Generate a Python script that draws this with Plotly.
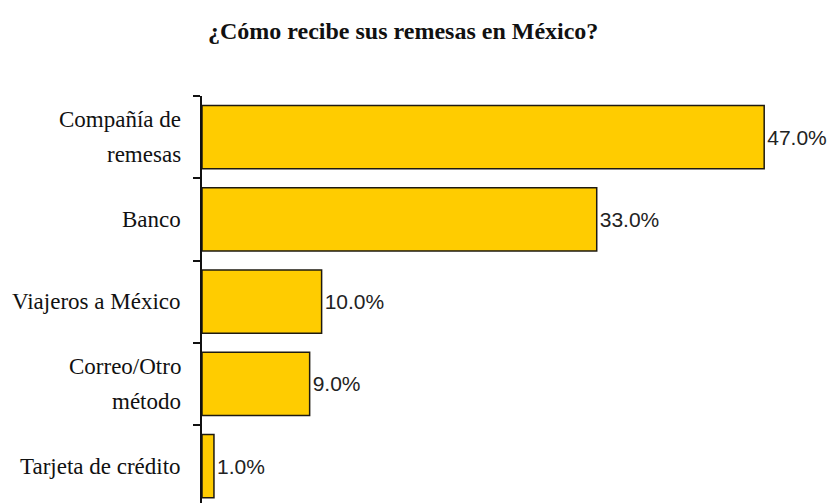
import plotly.graph_objects as go

categories = ["Compañía de<br>remesas", "Banco", "Viajeros a México", "Correo/Otro<br>método", "Tarjeta de crédito"]
values = [47.0, 33.0, 10.0, 9.0, 1.0]
title_text = "¿Cómo recibe sus remesas en México?"

fig = go.Figure()
fig.add_trace(go.Bar(
    y=categories, x=values, orientation="h",
    marker=dict(color="#FFCC00", line=dict(color="#1e1a10", width=1.5)),
    texttemplate="%{x:.1f}%", textposition="outside", cliponaxis=False,
    textfont=dict(family="Liberation Sans", size=21, color="#222222"),
    width=0.77,
))

# category labels as annotations (one per line to match spacing)
line_gap = 35
for cat in categories:
    lines = cat.split("<br>")
    n = len(lines)
    for i, ln in enumerate(lines):
        off = (i - (n - 1) / 2) * line_gap
        fig.add_annotation(
            x=0, xref="paper", y=cat, yref="y", text=ln, showarrow=False,
            xanchor="right", yanchor="middle", xshift=-19, yshift=-off,
            font=dict(family="Liberation Serif", size=23, color="#111111"),
        )

fig.update_layout(
    width=833, height=503,
    margin=dict(l=202, r=9, t=96, b=0),
    paper_bgcolor="white", plot_bgcolor="white",
    showlegend=False,
    title=dict(text="<b>" + title_text + "</b>", x=0.484, xanchor="center", y=0.94, yanchor="middle",
               font=dict(family="Liberation Serif", size=24, color="#111111")),
)
fig.update_xaxes(range=[0, 52], visible=False, fixedrange=True)
fig.update_yaxes(
    categoryorder="array", categoryarray=categories,
    range=[4.448, -0.5], showticklabels=False,
    showline=True, linecolor="#111111", linewidth=2,
    ticks="outside", tickson="boundaries", ticklen=7, tickcolor="#111111", tickwidth=2,
    showgrid=False, zeroline=False, fixedrange=True,
)

fig.write_html("out.html")
